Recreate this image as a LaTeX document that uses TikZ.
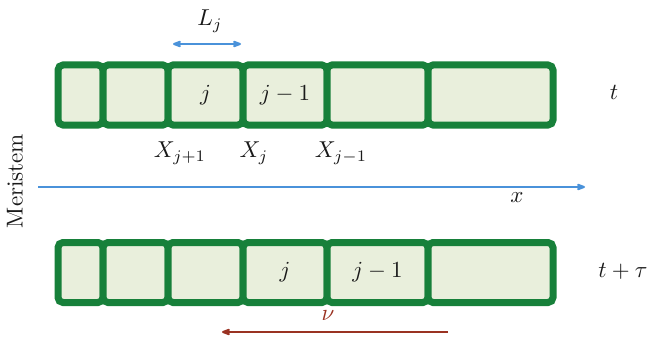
\documentclass[tikz,border=0pt]{standalone}
\usepackage{xcolor}
\usepackage{graphicx}
\usepackage{tikz}
\usetikzlibrary{arrows.meta,positioning}
\definecolor{verdeBorde}{HTML}{17803A}
\definecolor{verdeFondo}{HTML}{E9EFDC}
\definecolor{azulEje}{HTML}{4A92DA}
\definecolor{rojoVel}{HTML}{9A3222}
\definecolor{tinta}{HTML}{1A1A1A}
\newcommand{\grande}[1]{\scalebox{2.3}{#1}}

\begin{document}
\begin{tikzpicture}[x=1pt,y=-1pt,
    celda/.style={draw=verdeBorde,fill=verdeFondo,line width=7pt,
                  rounded corners=5pt,outer sep=0pt,inner sep=0pt,
                  minimum height=60pt,text=tinta},
    rotulo/.style={text=tinta,inner sep=0pt},
    >={Stealth[round]}]
  \useasboundingbox (0,0) rectangle (651,337);
  % fila superior, instante t
  \node[celda,minimum width=45pt] (a1) at (80.5,95) {};
  \node[celda,minimum width=65pt,right=0pt of a1] (a2) {};
  \node[celda,minimum width=75pt,right=0pt of a2] (a3) {\grande{$j$}};
  \node[celda,minimum width=84pt,right=0pt of a3] (a4) {\grande{$j-1$}};
  \node[celda,minimum width=101pt,right=0pt of a4] (a5) {};
  \node[celda,minimum width=125pt,right=0pt of a5] (a6) {};
  % fila inferior, instante t + tau
  \node[celda,minimum width=45pt] (b1) at (80.5,272.5) {};
  \node[celda,minimum width=65pt,right=0pt of b1] (b2) {};
  \node[celda,minimum width=75pt,right=0pt of b2] (b3) {};
  \node[celda,minimum width=84pt,right=0pt of b3] (b4) {\grande{$j$}};
  \node[celda,minimum width=101pt,right=0pt of b4] (b5) {\grande{$j-1$}};
  \node[celda,minimum width=125pt,right=0pt of b5] (b6) {};
  % longitud L_j
  \coordinate (l0) at (173,44);
  \coordinate (l1) at (241,44);
  \draw[<->,azulEje,line width=2pt] (l0) -- (l1);
  \node[rotulo] (lj) at (210,21) {\grande{$L_j$}};
  % posiciones
  \node[rotulo] (xa) at (180,153) {\grande{$X_{j+1}$}};
  \node[rotulo] (xb) at (254,153) {\grande{$X_j$}};
  \node[rotulo] (xc) at (341,153) {\grande{$X_{j-1}$}};
  % eje x
  \coordinate (e0) at (38,187);
  \coordinate (e1) at (585,187);
  \draw[->,azulEje,line width=2pt] (e0) -- (e1);
  \node[rotulo] (ex) at (517,198) {\grande{$x$}};
  % tiempos
  \node[rotulo] (t0) at (614,92) {\grande{$t$}};
  \node[rotulo] (t1) at (623,271) {\grande{$t+\tau$}};
  \node[rotulo,rotate=90] (mer) at (15,181) {\grande{Meristem}};
  % velocidad
  \coordinate (v0) at (448,332);
  \coordinate (v1) at (222,332);
  \draw[->,rojoVel,line width=2pt] (v0) -- (v1);
  \node[rotulo,text=rojoVel] (nu) at (328,316) {\grande{$\nu$}};
\end{tikzpicture}
\end{document}
